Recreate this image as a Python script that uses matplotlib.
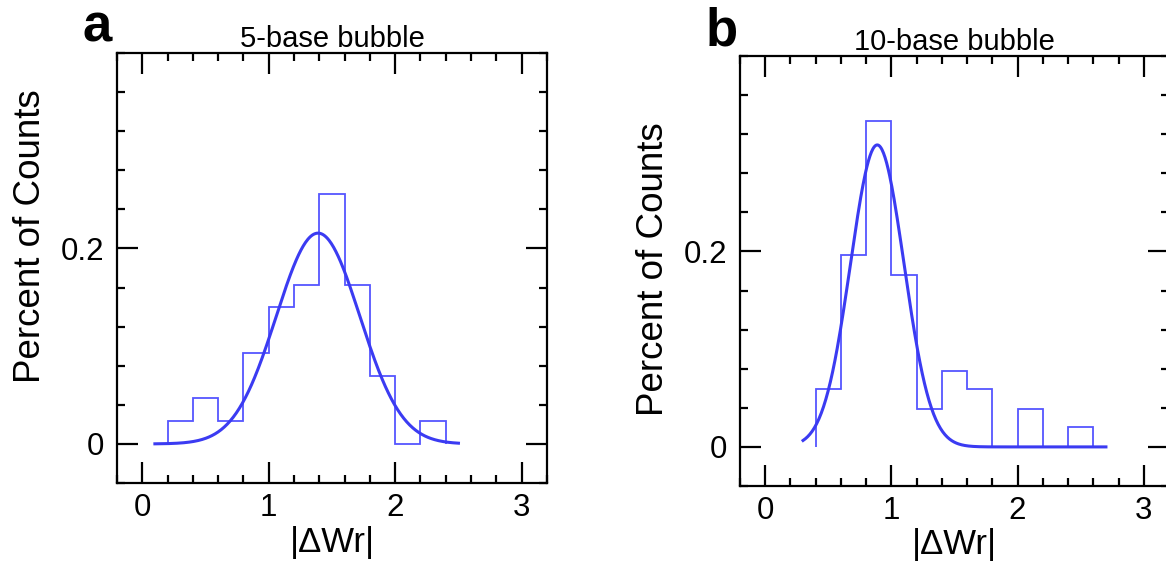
import numpy as np
import matplotlib
matplotlib.use("Agg")
import matplotlib.pyplot as plt
from matplotlib.ticker import MultipleLocator

plt.rcParams['font.family'] = ['Liberation Sans', 'DejaVu Sans']

# histogram bins (fraction of counts), bin width 0.2
edges_a = [0.2, 0.4, 0.6, 0.8, 1.0, 1.2, 1.4, 1.6, 1.8, 2.0, 2.2, 2.4]
frac_a = [0.023, 0.047, 0.023, 0.093, 0.140, 0.163, 0.256, 0.163, 0.070, 0.0, 0.023]

edges_b = [0.4, 0.6, 0.8, 1.0, 1.2, 1.4, 1.6, 1.8, 2.0, 2.2, 2.4, 2.6]
frac_b = [0.059, 0.196, 0.333, 0.176, 0.039, 0.078, 0.059, 0.0, 0.039, 0.0, 0.020]

# gaussian fits: amplitude, centre, width, x range
fit_a = dict(amp=0.2157, mu=1.39, sigma=0.33, x0=0.1, x1=2.5)
fit_b = dict(amp=0.309, mu=0.888, sigma=0.212, x0=0.3, x1=2.7)

titles = ['5-base bubble', '10-base bubble']
letters = ['a', 'b']

hist_col = '#5555ff'
fit_col = '#3b3bf2'

fig = plt.figure(figsize=(11.66, 5.64), dpi=100)
ax_a = fig.add_axes([0.1003, 0.1436, 0.3688, 0.7624])
ax_b = fig.add_axes([0.6346, 0.1383, 0.3680, 0.7624])


def draw(ax, edges, frac, fit, title, label_y):
    ax.stairs(frac, edges, baseline=0, fill=False, color=hist_col, lw=1.3)
    xs = np.linspace(fit['x0'], fit['x1'], 400)
    ys = fit['amp'] * np.exp(-(xs - fit['mu']) ** 2 / (2 * fit['sigma'] ** 2))
    ax.plot(xs, ys, color=fit_col, lw=2.2)

    ax.set_xlim(-0.2, 3.2)
    ax.set_ylim(-0.04, 0.4)
    ax.set_xticks([0, 1, 2, 3])
    ax.set_yticks([0, 0.2])
    ax.set_yticklabels(['0', '0.2'])
    ax.xaxis.set_minor_locator(MultipleLocator(0.2))
    ax.yaxis.set_minor_locator(MultipleLocator(0.04))
    ax.tick_params(which='both', direction='in', top=True, right=True, width=1.6,
                   labelsize=22.5, colors='black')
    ax.tick_params(which='major', length=15)
    ax.tick_params(which='minor', length=6)
    ax.tick_params(axis='x', pad=7)
    ax.tick_params(axis='y', pad=9)
    for s in ax.spines.values():
        s.set_linewidth(1.6)

    ax.set_xlabel('|\u0394Wr|', fontsize=25, labelpad=2)
    ax.set_ylabel('Percent of Counts', fontsize=26.5)
    ax.yaxis.set_label_coords(-0.16, label_y)
    ax.set_title(title, fontsize=21, pad=4)


draw(ax_a, edges_a, frac_a, fit_a, titles[0], 0.575)
draw(ax_b, edges_b, frac_b, fit_b, titles[1], 0.505)

fig.text(82 / 1166, 1 - 41 / 564, letters[0], fontsize=38, fontweight='bold', va='baseline')
fig.text(706 / 1166, 1 - 45 / 564, letters[1], fontsize=38, fontweight='bold', va='baseline')

fig.savefig('out.png', dpi=100)
